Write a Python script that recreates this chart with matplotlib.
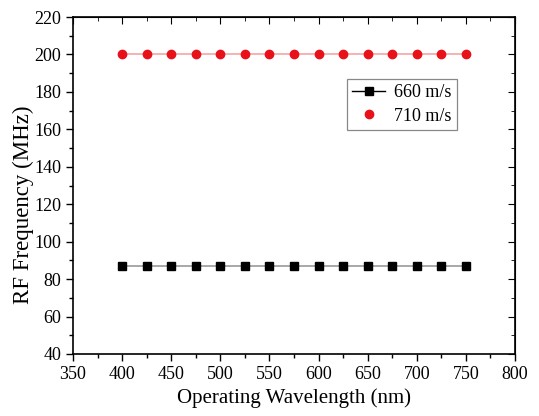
import matplotlib
matplotlib.use("Agg")
import matplotlib.pyplot as plt
from matplotlib.ticker import MultipleLocator
from matplotlib.lines import Line2D

plt.rcParams['font.family'] = ['Liberation Serif', 'DejaVu Serif']

wavelength = [400, 425, 450, 475, 500, 525, 550, 575, 600, 625, 650, 675, 700, 725, 750]
freq_660 = [87, 87, 87, 87, 87, 87, 87, 87, 87, 87, 87, 87, 87, 87, 87]
freq_710 = [200, 200, 200, 200, 200, 200, 200, 200, 200, 200, 200, 200, 200, 200, 200]

fig = plt.figure(figsize=(5.39, 4.16), dpi=100)
ax = fig.add_axes([73/539, 1-354/416, (515-73)/539, (354-17)/416])

ax.plot(wavelength, freq_660, color='#999999', lw=1.2, zorder=2)
ax.plot(wavelength, freq_660, ls='none', marker='s', ms=5.2, color='black', zorder=3)
ax.plot(wavelength, freq_710, color='#f5a5a5', lw=1.2, zorder=2)
ax.plot(wavelength, freq_710, ls='none', marker='o', ms=6, color='#e8111a', zorder=3)

h1 = Line2D([], [], color='black', lw=1.0, marker='s', ms=5.2)
h2 = Line2D([], [], color='#e8111a', ls='none', marker='o', ms=6)
leg = ax.legend([h1, h2], ['660 m/s', '710 m/s'], loc='upper left',
                bbox_to_anchor=(0.62, 0.816), fontsize=13, frameon=True,
                fancybox=False, edgecolor='#888888', framealpha=1,
                handlelength=1.8, handletextpad=0.5, borderpad=0.3,
                labelspacing=0.35, borderaxespad=0)
leg.get_frame().set_linewidth(0.9)

ax.set_xlim(350, 800)
ax.set_ylim(40, 220)
ax.xaxis.set_major_locator(MultipleLocator(50))
ax.xaxis.set_minor_locator(MultipleLocator(25))
ax.yaxis.set_major_locator(MultipleLocator(20))
ax.yaxis.set_minor_locator(MultipleLocator(10))

ax.tick_params(which='both', direction='out', top=False, right=False, labelsize=13, width=1.0)
ax.tick_params(which='major', length=5)
ax.tick_params(which='minor', length=3)

axt = ax.secondary_xaxis('top')
axt.xaxis.set_major_locator(MultipleLocator(50))
axt.xaxis.set_minor_locator(MultipleLocator(25))
axt.tick_params(which='both', direction='in', labeltop=False)
axt.tick_params(which='major', length=5)
axt.tick_params(which='minor', length=3)
axr = ax.secondary_yaxis('right')
axr.yaxis.set_major_locator(MultipleLocator(20))
axr.yaxis.set_minor_locator(MultipleLocator(10))
axr.tick_params(which='both', direction='in', labelright=False)
axr.tick_params(which='major', length=5)
axr.tick_params(which='minor', length=3)

for s in ax.spines.values():
    s.set_linewidth(1.2)

ax.set_xlabel('Operating Wavelength (nm)', fontsize=15, labelpad=4)
ax.set_ylabel('RF Frequency (MHz)', fontsize=16.5, va='center')
ax.yaxis.set_label_coords(-0.113, 0.442)

fig.savefig('out.png', dpi=100)
